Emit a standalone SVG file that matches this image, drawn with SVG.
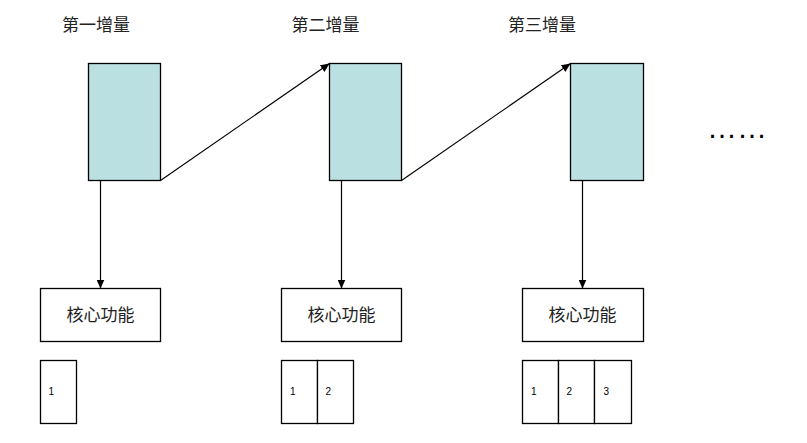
<svg xmlns="http://www.w3.org/2000/svg" width="807" height="443" viewBox="0 0 807 443">
<defs>
<style>
.inc{fill:#BAE0E1;stroke:#000;stroke-width:1.3}
.box{fill:#fff;stroke:#000;stroke-width:1.3}
.lbl{font-family:"Noto Sans CJK SC","Noto Sans",sans-serif;font-size:17px;fill:#222;text-anchor:middle}
.num{font-family:"Liberation Sans",Arial,sans-serif;font-size:10px;fill:#000}
.dots{font-family:"Liberation Sans",Arial,sans-serif;font-size:30px;fill:#000}
.conn{stroke:#000;stroke-width:1.2;fill:none;marker-end:url(#ah)}
</style>
<marker id="ah" markerWidth="10" markerHeight="8" refX="9" refY="4" orient="auto" markerUnits="userSpaceOnUse">
<path d="M0,0 L9,4 L0,8 Z" fill="#000"/>
</marker>
</defs>
<rect width="807" height="443" fill="#fff"/>
<g id="title1"><text class="lbl" x="96" y="31">第一增量</text></g>
<g id="title2"><text class="lbl" x="325.5" y="31">第二增量</text></g>
<g id="title3"><text class="lbl" x="542" y="31">第三增量</text></g>
<g id="inc1"><rect class="inc" x="88.5" y="63.5" width="72" height="117"/></g>
<g id="inc2"><rect class="inc" x="329.5" y="63.5" width="72" height="117"/></g>
<g id="inc3"><rect class="inc" x="570.5" y="63.5" width="73" height="117"/></g>
<g id="core1"><rect class="box" x="40.5" y="288.5" width="120" height="53"/><text class="lbl" x="100.5" y="321">核心功能</text></g>
<g id="core2"><rect class="box" x="281.5" y="288.5" width="120" height="53"/><text class="lbl" x="341.5" y="321">核心功能</text></g>
<g id="core3"><rect class="box" x="522.5" y="288.5" width="121" height="53"/><text class="lbl" x="582.5" y="321">核心功能</text></g>
<g id="parts1">
<rect class="box" x="40.5" y="360.5" width="36" height="63"/>
<text class="num" x="48.5" y="395">1</text>
</g>
<g id="parts2">
<rect class="box" x="281.5" y="360.5" width="36" height="63"/>
<rect class="box" x="317.5" y="360.5" width="36" height="63"/>
<text class="num" x="290" y="395">1</text>
<text class="num" x="325.5" y="395">2</text>
</g>
<g id="parts3">
<rect class="box" x="522.5" y="360.5" width="36" height="63"/>
<rect class="box" x="558.5" y="360.5" width="36" height="63"/>
<rect class="box" x="594.5" y="360.5" width="37" height="63"/>
<text class="num" x="531" y="395">1</text>
<text class="num" x="566.5" y="395">2</text>
<text class="num" x="603.5" y="395">3</text>
</g>
<g id="more"><text class="dots" x="707" y="138">……</text></g>
<g id="connectors">
<line class="conn" x1="160.5" y1="180.5" x2="329.5" y2="63.5"/>
<line class="conn" x1="401.5" y1="180.5" x2="570.5" y2="63.5"/>
<line class="conn" x1="100.5" y1="180.5" x2="100.5" y2="288.5"/>
<line class="conn" x1="341.5" y1="180.5" x2="341.5" y2="288.5"/>
<line class="conn" x1="582.5" y1="180.5" x2="582.5" y2="288.5"/>
</g>
</svg>
